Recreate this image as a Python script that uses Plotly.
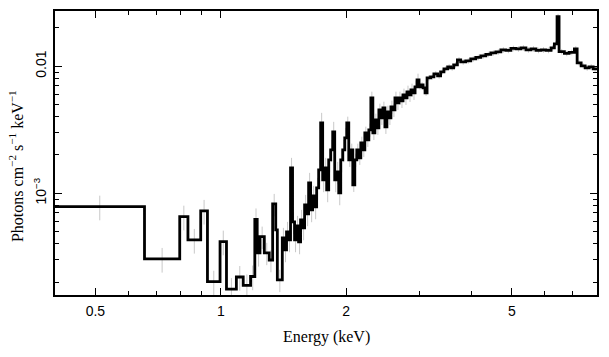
import math
import plotly.graph_objects as go

# Bin left edges (keV) and flux (photons cm^-2 s^-1 keV^-1)
bin_lo = [0.400, 0.656, 0.797, 0.834, 0.895, 0.929, 0.996, 1.032, 1.090, 1.132,
          1.179, 1.207, 1.223, 1.242, 1.272, 1.307, 1.332, 1.355, 1.367,
          1.4051, 1.4223, 1.4382, 1.4543, 1.4705, 1.4869, 1.5035, 1.5203, 1.5372, 1.5544,
          1.5718, 1.5893, 1.6071, 1.6250, 1.6431, 1.6614, 1.6799, 1.6987, 1.7177, 1.7368,
          1.7562, 1.7758, 1.7956, 1.8157, 1.8359, 1.8564, 1.8771, 1.8981, 1.9193, 1.9407,
          1.9623, 1.9842, 2.0064, 2.0288, 2.0514, 2.0743, 2.0974, 2.1208, 2.1445, 2.1684,
          2.1926, 2.2170, 2.2418, 2.2668, 2.2921, 2.3177, 2.3435, 2.3697, 2.3961, 2.4228,
          2.4499, 2.4772, 2.5048, 2.5328, 2.5610, 2.5896, 2.6185, 2.6477, 2.6773, 2.7071,
          2.7373, 2.7679, 2.7988, 2.8300, 2.8616, 2.8935, 2.9258, 2.9584, 2.9914, 3.0250,
          3.0587, 3.0929, 3.1274, 3.1887, 3.2476, 3.3149, 3.3706, 3.4328, 3.5041, 3.5629,
          3.6227, 3.6977, 3.7660, 3.8720, 3.9811, 4.0931, 4.2082, 4.3265, 4.4483, 4.5734,
          4.7020, 4.8342, 4.9703, 5.1101, 5.2539, 5.4016, 5.5536, 5.7098, 5.8703, 6.0354,
          6.2053, 6.3198, 6.4153, 6.4869, 6.6804, 6.8568, 7.0617, 7.1683, 7.3289, 7.4933,
          7.6616, 7.8337]
bin_hi_last = 8.0
flux = [7.84e-4, 3.04e-4, 6.54e-4, 4.29e-4, 7.26e-4, 2.01e-4, 4.16e-4, 1.76e-4, 2.19e-4, 1.88e-4,
        2.21e-4, 6.22e-4, 3.39e-4, 4.55e-4, 3.39e-4, 2.98e-4, 8.23e-4, 5.14e-4, 2.08e-4,
        4.446e-4, 3.577e-4, 4.958e-4, 4.288e-4, 1.582e-3, 5.943e-4, 4.288e-4, 5.527e-4, 4.135e-4, 6.163e-4,
        5.330e-4, 8.088e-4, 6.874e-4, 1.205e-3, 7.389e-4, 9.522e-4, 7.800e-4, 1.101e-3, 1.526e-3, 3.577e-3,
        1.273e-3, 1.582e-3, 1.062e-3, 1.829e-3, 2.193e-3, 3.039e-3, 1.273e-3, 1.471e-3, 1.005e-3, 1.829e-3,
        2.193e-3, 2.725e-3, 3.577e-3, 1.829e-3, 2.193e-3, 1.162e-3, 1.829e-3, 2.193e-3, 1.897e-3, 2.489e-3,
        2.193e-3, 2.984e-3, 2.629e-3, 3.151e-3, 5.628e-3, 2.984e-3, 3.777e-3, 3.268e-3, 4.527e-3, 3.916e-3,
        4.694e-3, 3.327e-3, 4.365e-3, 3.916e-3, 4.780e-3, 4.527e-3, 5.628e-3, 5.141e-3, 5.628e-3, 5.330e-3,
        5.943e-3, 5.628e-3, 6.275e-3, 5.943e-3, 6.507e-3, 6.163e-3, 6.871e-3, 7.800e-3, 6.871e-3, 7.124e-3,
        6.747e-3, 6.163e-3, 8.088e-3, 8.236e-3, 8.697e-3, 8.387e-3, 9.018e-3, 9.522e-3, 9.874e-3, 9.697e-3,
        1.0238e-2, 1.1210e-2, 1.0811e-2, 1.1009e-2, 1.1416e-2, 1.1731e-2, 1.2054e-2, 1.2386e-2, 1.2725e-2, 1.2959e-2,
        1.3437e-2, 1.3315e-2, 1.3806e-2, 1.3680e-2, 1.3931e-2, 1.3437e-2, 1.3680e-2, 1.3315e-2, 1.3437e-2, 1.3315e-2,
        1.3931e-2, 1.4984e-2, 2.4578e-2, 1.3030e-2, 1.2610e-2, 1.2841e-2, 1.3680e-2, 1.0616e-2, 1.0055e-2, 9.697e-3,
        9.874e-3, 9.522e-3]

# Fractional 1-sigma error by energy band
err_band_edges = [0.4, 1.25, 2.0, 3.0, 8.0]
err_band_frac = [0.22, 0.2, 0.12, 0.05]

x_ticks = [0.5, 1, 2, 5]
x_tick_text = ["0.5", "1", "2", "5"]
x_minor = [0.6, 0.7, 0.8, 0.9, 3, 4, 6, 7]
y_ticks = [1e-3, 1e-2]
y_tick_text = ["10<sup>−3</sup>", "0.01"]
y_minor = [2e-4, 3e-4, 4e-4, 5e-4, 6e-4, 7e-4, 8e-4, 9e-4,
           2e-3, 3e-3, 4e-3, 5e-3, 6e-3, 7e-3, 8e-3, 9e-3, 2e-2]

x_range = [0.4, 8.0]
y_range = [1.58e-4, 2.72e-2]

edges = bin_lo + [bin_hi_last]
step_x = edges
step_y = flux + [flux[-1]]

mid = [math.sqrt(edges[i] * edges[i + 1]) for i in range(len(flux))]


def band_frac(e):
    for k in range(len(err_band_frac)):
        if err_band_edges[k] <= e < err_band_edges[k + 1]:
            return err_band_frac[k]
    return err_band_frac[-1]


err = [f * band_frac(m) for f, m in zip(flux, mid)]

fig = go.Figure()
fig.add_trace(go.Scatter(
    x=mid, y=flux, mode="markers",
    marker=dict(size=0.1, color="rgba(0,0,0,0)"),
    error_y=dict(type="data", array=err, color="#c8c8c8", thickness=1, width=0),
    hoverinfo="skip", showlegend=False))
fig.add_trace(go.Scatter(
    x=step_x, y=step_y, mode="lines", line=dict(shape="hv", color="black", width=2.8),
    showlegend=False))

axis_common = dict(
    type="log", showgrid=False, zeroline=False, showline=True, linecolor="black",
    linewidth=1.5, mirror="ticks", ticks="inside", tickcolor="black", tickwidth=1.2,
    ticklen=7, automargin=False,
    tickfont=dict(family="Liberation Sans, Arial", size=14, color="black"),
)

fig.update_layout(
    width=609, height=357,
    margin=dict(l=55, r=12, t=11, b=62, autoexpand=False),
    paper_bgcolor="white", plot_bgcolor="white",
    xaxis=dict(axis_common, range=[math.log10(x_range[0]), math.log10(x_range[1])],
               tickmode="array", tickvals=x_ticks, ticktext=x_tick_text,
               minor=dict(ticks="inside", tickvals=x_minor, ticklen=4, tickcolor="black", tickwidth=1.2),
               ticklabelstandoff=2),
    yaxis=dict(axis_common, range=[math.log10(y_range[0]), math.log10(y_range[1])],
               tickmode="array", tickvals=y_ticks, ticktext=y_tick_text, tickangle=-90,
               minor=dict(ticks="inside", tickvals=y_minor, ticklen=4, tickcolor="black", tickwidth=1.2),
               ticklabelstandoff=2),
    annotations=[
        dict(text="Energy (keV)", xref="paper", yref="paper", x=0.5, y=-0.148,
             xanchor="center", yanchor="middle", showarrow=False,
             font=dict(family="Liberation Serif, Times New Roman", size=16, color="black")),
        dict(text="Photons cm<sup>−2</sup> s<sup>−1</sup> keV<sup>−1</sup>", xref="paper", yref="paper",
             x=-0.072, y=0.454, xanchor="center", yanchor="middle", textangle=-90, showarrow=False,
             font=dict(family="Liberation Serif, Times New Roman", size=16, color="black")),
    ],
)

fig.write_html("out.html", config={"displayModeBar": False},
               post_script="document.body.style.margin='0';document.body.style.padding='0';")
